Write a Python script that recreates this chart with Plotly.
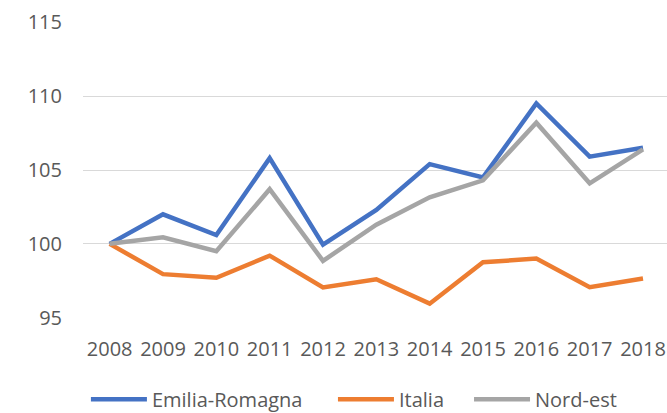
import plotly.graph_objects as go

years = ["2008", "2009", "2010", "2011", "2012", "2013", "2014", "2015", "2016", "2017", "2018"]
emilia = [100.0, 102.0, 100.6, 105.8, 99.95, 102.3, 105.4, 104.5, 109.5, 105.9, 106.5]
italia = [100.0, 97.95, 97.7, 99.2, 97.05, 97.6, 95.95, 98.75, 99.0, 97.07, 97.65]
nordest = [100.0, 100.45, 99.5, 103.7, 98.85, 101.3, 103.15, 104.3, 108.2, 104.1, 106.4]
y_ticks = [95, 100, 105, 110, 115]

FONT = "Open Sans"
TXT = "#595959"

series = [("Emilia-Romagna", emilia, "#4472C4", "legend", 0.005),
          ("Italia", italia, "#ED7D31", "legend2", 0.428),
          ("Nord-est", nordest, "#A5A5A5", "legend3", 0.661)]

fig = go.Figure()
legends = {}
for name, vals, col, leg, lx in series:
    fig.add_trace(go.Scatter(x=years, y=vals, name=name, mode="lines", legend=leg,
                             line=dict(color=col, width=4.5)))
    legends[leg] = dict(orientation="h", x=lx, xanchor="left", xref="paper",
                        y=0.033, yanchor="middle", yref="container",
                        font=dict(family=FONT, size=20, color=TXT), itemwidth=56,
                        bgcolor="rgba(0,0,0,0)")

fig.update_layout(
    width=667, height=413,
    margin=dict(l=83, r=0, t=22, b=95),
    paper_bgcolor="white", plot_bgcolor="white",
    font=dict(family=FONT, size=20, color=TXT),
    showlegend=True,
    **legends,
)
fig.update_xaxes(type="category", range=[-0.5, 10.45], showgrid=False, showline=False,
                 zeroline=False, ticks="", ticklabelstandoff=17, automargin=False,
                 tickfont=dict(family=FONT, size=20, color=TXT))
fig.update_yaxes(range=[94.98, 115.02], tickvals=y_ticks, showgrid=True,
                 gridcolor="#D9D9D9", gridwidth=1, zeroline=False, showline=False,
                 ticks="", ticklabelstandoff=20, automargin=False,
                 tickfont=dict(family=FONT, size=20, color=TXT))

fig.write_html("out.html", config={"displayModeBar": False},
               post_script="document.body.style.margin='0';document.body.style.overflow='hidden';")
